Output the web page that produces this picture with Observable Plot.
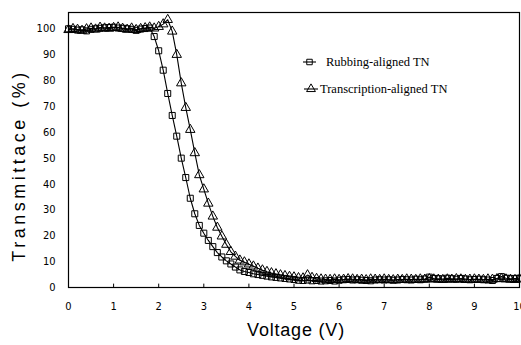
<!DOCTYPE html>
<html><head><meta charset="utf-8">
<script src="https://cdn.jsdelivr.net/npm/d3@7"></script>
<script src="https://cdn.jsdelivr.net/npm/@observablehq/plot@0.6"></script>
<style>body{margin:0;background:#fff}#chart svg{display:block}</style>
</head><body><div id="chart"></div>
<script>
const voltage = [
 0.0,0.1,0.2,0.3,0.4,0.5,0.6,0.7,0.8,0.9,
 1.0,1.1,1.2,1.3,1.4,1.5,1.6,1.7,1.8,1.9,
 2.0,2.1,2.2,2.3,2.4,2.5,2.6,2.7,2.8,2.9,
 3.0,3.1,3.2,3.3,3.4,3.5,3.6,3.7,3.8,3.9,
 4.0,4.1,4.2,4.3,4.4,4.5,4.6,4.7,4.8,4.9,
 5.0,5.1,5.2,5.3,5.4,5.5,5.6,5.7,5.8,5.9,
 6.0,6.1,6.2,6.3,6.4,6.5,6.6,6.7,6.8,6.9,
 7.0,7.1,7.2,7.3,7.4,7.5,7.6,7.7,7.8,7.9,
 8.0,8.1,8.2,8.3,8.4,8.5,8.6,8.7,8.8,8.9,
 9.0,9.1,9.2,9.3,9.4,9.5,9.6,9.7,9.8,9.9,
 10.0];
const rubbing = [
 100,99.8,99.5,99.6,99.2,99.8,100,100.2,100.4,100.5,
 100.6,100.3,100.2,100,99.8,99.4,99.9,100.1,100.3,97,
 91.5,84,75,66.5,58.5,50,42.5,34.5,28.5,24,
 21,18.2,15.8,13.5,11.8,10.3,9.1,7.9,6.8,6.2,
 5.8,5.3,5.0,4.7,4.4,4.1,3.9,3.7,3.5,3.3,
 3.1,2.8,2.7,2.9,2.6,2.7,2.5,2.6,2.7,2.5,
 2.8,3.0,3.1,2.9,3.0,2.8,2.7,2.6,2.9,3.0,
 2.9,3.0,2.8,2.9,3.1,3.0,2.9,3.2,3.0,3.3,
 4.0,3.5,3.4,3.3,3.6,3.4,3.2,3.5,3.3,3.0,
 3.1,3.2,3.0,2.9,2.7,3.5,4.2,3.6,3.4,3.5,
 3.6];
const transcription = [
 99.6,100,99.7,99.3,99.9,100.2,99.8,100.5,100.2,100.1,
 100.4,100.6,100.1,99.7,100.2,99.6,100,100.3,100.6,100.2,
 100.8,101.8,103.5,99,90,79,69.5,61,52,43.5,
 38,32.5,27.5,23.2,19.8,16.6,13.8,12,10.5,9.8,
 9.0,8.2,7.4,6.7,6.1,5.6,5.2,4.8,4.5,4.2,
 4.0,3.7,3.6,4.8,3.8,3.4,3.2,3.1,3.0,3.2,
 3.0,3.1,3.3,3.2,3.0,3.1,2.9,3.2,3.1,3.0,
 3.2,3.0,2.9,3.1,3.0,3.2,3.1,3.0,3.2,3.1,
 3.3,3.2,3.1,3.0,3.2,3.1,3.3,3.2,3.0,3.1,
 3.2,3.1,3.0,3.2,3.1,3.3,3.4,3.2,3.1,3.0,
 3.2];
const xTicks = [0,1,2,3,4,5,6,7,8,9,10];
const yTicks = [0,10,20,30,40,50,60,70,80,90,100];
const seriesNames = ["Rubbing-aligned TN", "Transcription-aligned TN"];
const xLabel = "Voltage (V)";
const yLabel = "Transmittace (%)";

const rubRows = voltage.map((v, i) => ({v, t: rubbing[i], s: seriesNames[0]}));
const traRows = voltage.map((v, i) => ({v, t: transcription[i], s: seriesNames[1]}));

const tickFont = "'Liberation Sans Narrow','DejaVu Sans Condensed','Liberation Sans',sans-serif";
const titleFont = "'Liberation Sans',Arial,sans-serif";

const chart = Plot.plot({
  width: 521,
  height: 345,
  marginLeft: 68,
  marginRight: 2,
  marginTop: 12,
  marginBottom: 58,
  style: {background: "#fff", color: "#000", fontFamily: titleFont},
  x: {domain: [0, 10]},
  y: {domain: [0, 106.3]},
  marks: [
    Plot.frame({stroke: "#000", strokeWidth: 1.2}),
    Plot.ruleX(xTicks, {y1: 0, y2: 1.3, stroke: "#000"}),
    Plot.axisX({ticks: xTicks, tickSize: 0, tickPadding: 15, fontSize: 11, fontFamily: tickFont, label: null}),
    Plot.axisY({ticks: yTicks, tickSize: 0, tickPadding: 13, fontSize: 11, fontFamily: tickFont, label: null}),
    Plot.line(rubRows, {x: "v", y: "t", stroke: "#000", strokeWidth: 1.1}),
    Plot.line(traRows, {x: "v", y: "t", stroke: "#000", strokeWidth: 1.1}),
    Plot.dot(rubRows, {x: "v", y: "t", symbol: "square", r: 3.4, stroke: "#000", fill: "none", strokeWidth: 1}),
    Plot.dot(traRows, {x: "v", y: "t", symbol: "triangle", r: 3.5, stroke: "#000", fill: "none", strokeWidth: 1}),
    Plot.text([xLabel], {frameAnchor: "bottom", textAnchor: "middle", dx: 2, dy: 48, fontSize: 18, fontFamily: titleFont, fill: "#000", style: "letter-spacing:0.8px"}),
    Plot.text([yLabel], {frameAnchor: "left", textAnchor: "middle", rotate: -90, dx: -49, dy: 15.5, fontSize: 18, fontFamily: titleFont, fill: "#000"})
  ]
});
document.getElementById("chart").appendChild(chart);

const svg = d3.select(chart);
// letter spacing on axis titles
svg.selectAll("text").filter(function() { return this.textContent === yLabel; }).style("letter-spacing", "3.5px");
svg.selectAll("text").filter(function() { return this.textContent === xLabel; }).style("letter-spacing", "0.8px");

// legend
const leg = svg.append("g").attr("fill", "none").attr("stroke", "#000");
const legendRows = [
  {y: 62, x0: 303, x1: 316, sym: "square", tx: 326},
  {y: 89, x0: 304, x1: 318, sym: "triangle", tx: 320}
];
legendRows.forEach((r, i) => {
  leg.append("line").attr("x1", r.x0).attr("x2", r.x1).attr("y1", r.y).attr("y2", r.y).attr("stroke-width", 1.1);
  const cx = (r.x0 + r.x1) / 2;
  const sym = d3.symbol().type(r.sym === "square" ? d3.symbolSquare : d3.symbolTriangle).size(r.sym === "square" ? 30 : 34);
  leg.append("path").attr("d", sym()).attr("transform", `translate(${cx},${r.y})`).attr("stroke-width", 1);
  svg.append("text").attr("x", r.tx).attr("y", r.y).attr("dy", "0.35em")
    .attr("text-anchor", "start")
    .attr("font-family", "'Liberation Serif','Times New Roman',serif").attr("font-size", 12.5)
    .attr("fill", "#000").text(seriesNames[i]);
});
</script></body></html>
